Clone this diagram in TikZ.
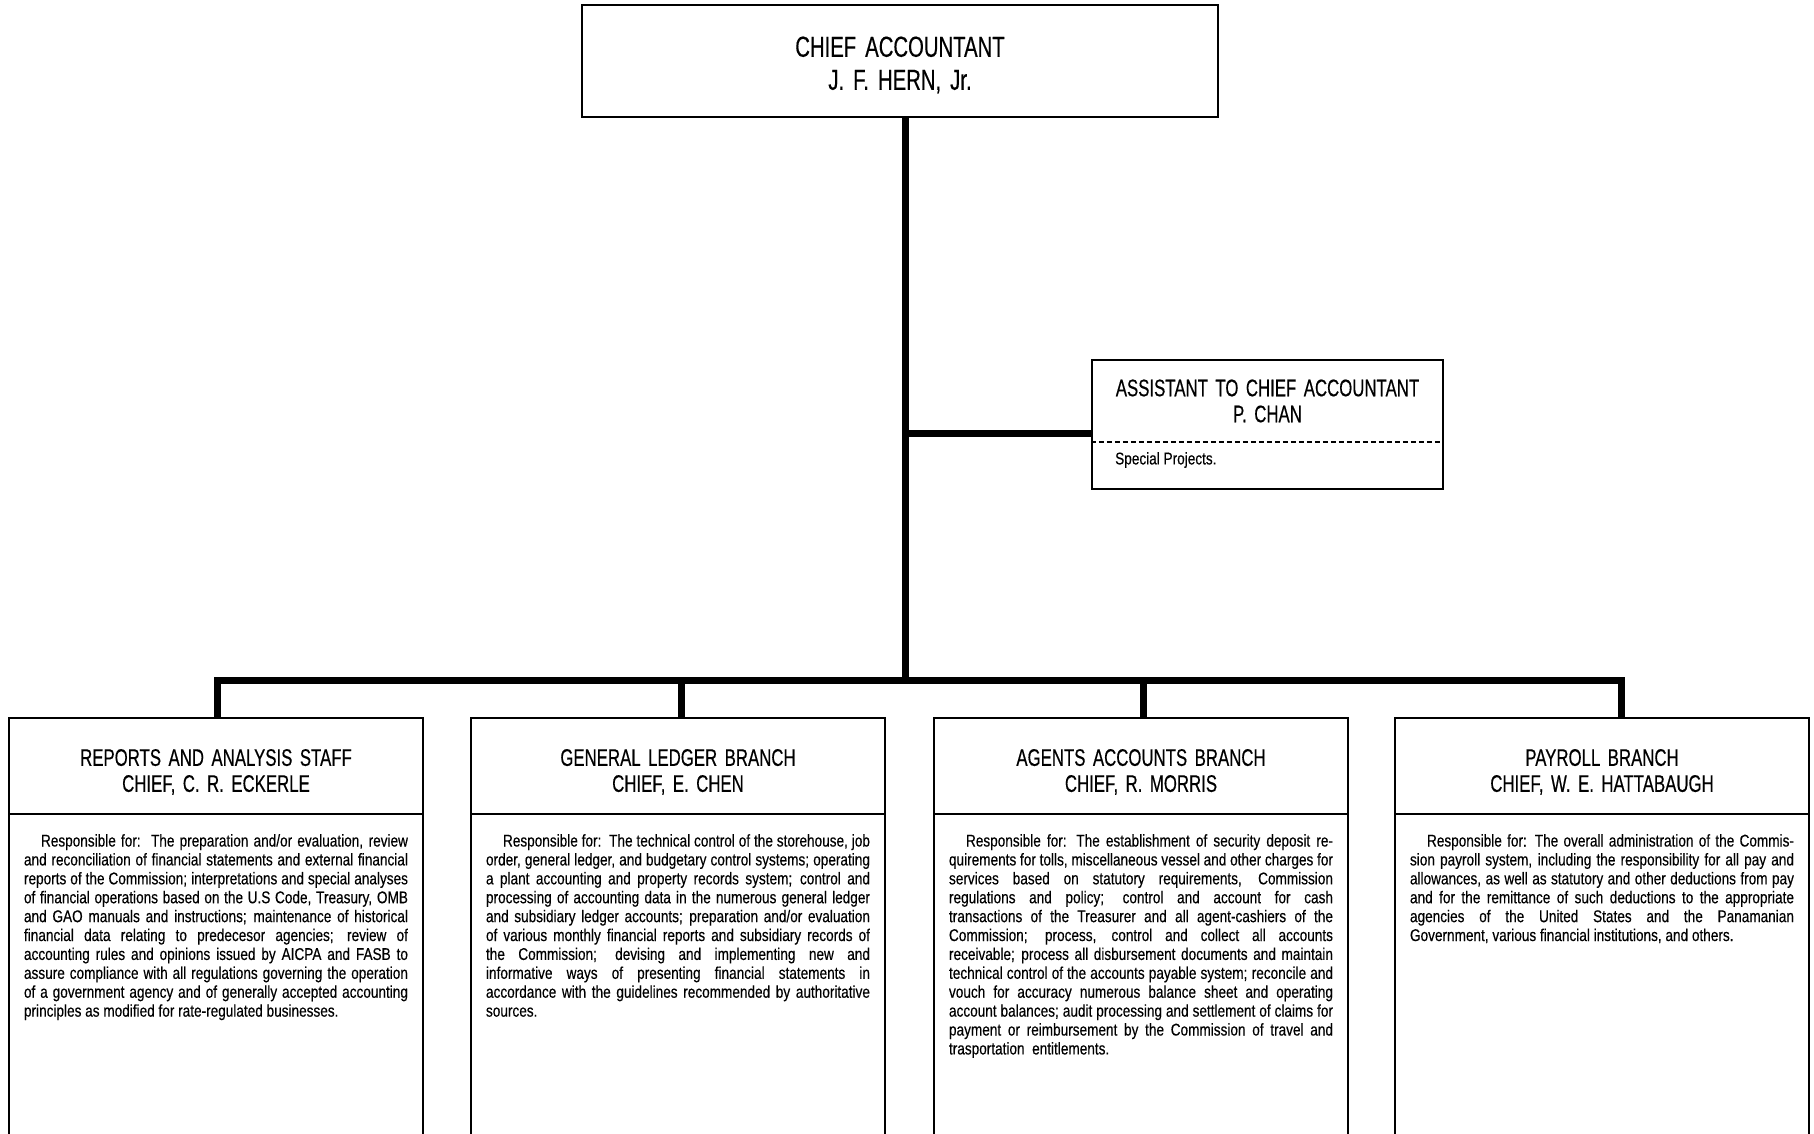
\documentclass[tikz,border=0pt]{standalone}
\usepackage{fontspec}
\setmainfont{Liberation Sans}[FakeStretch=0.80,FakeBold=0.35]
\newfontfamily\hdfont{Liberation Sans}[FakeStretch=0.70,WordSpace=1.6,FakeBold=0.4]
\newlength\bw
\setlength\bw{384pt}
\newcommand\jline[1]{\makebox[\bw][s]{#1}\par}
\newcommand\lline[1]{\makebox[\bw][l]{#1}\par}
\newcommand\ind{\hspace*{17pt}}
\tikzset{
  box/.style={draw, line width=2.2pt, inner sep=0pt, rectangle},
  conn/.style={line width=7pt},
  hd/.style={font=\hdfont\fontsize{24}{26}\selectfont, align=center, inner sep=0pt},
  body/.style={font=\fontsize{17}{18.9}\selectfont, inner sep=0pt, anchor=north},
}
\begin{document}
\begin{tikzpicture}[x=1pt,y=-1pt]
\useasboundingbox (0,0) rectangle (1814,1134);
\clip (0,0) rectangle (1814,1134);

% boxes
\node[box, minimum width=636pt, minimum height=112pt] (chief) at (900,61) {};
\node[hd, font=\hdfont\fontsize{29}{33}\selectfont] (chieft) at (900,65) {CHIEF ACCOUNTANT\\J. F. HERN, Jr.};

\node[box, minimum width=351pt, minimum height=129pt] (asst) at (1267.5,424.5) {};
\node[hd] (asstt) at (1267.5,401) {ASSISTANT TO CHIEF ACCOUNTANT\\P. CHAN};
\coordinate (dl) at (0,442);
\draw[line width=1.3pt, dash pattern=on 5pt off 3pt] (asst.west |- dl) -- (asst.east |- dl);
\node[font=\fontsize{17}{18.9}\selectfont, inner sep=0pt, anchor=west] (spec) at (1115,460) {Special Projects.};

\foreach \n/\cx in {1/216,2/678,3/1141,4/1602}{
  \node[box, minimum width=414pt, minimum height=96pt] (bh\n) at (\cx,766) {};
  \node[box, minimum width=414pt, minimum height=326pt] (bb\n) at (\cx,977) {};
}

\node[hd] (t1) at (216,772) {REPORTS AND ANALYSIS STAFF\\CHIEF, C. R. ECKERLE};
\node[hd] (t2) at (678,772) {GENERAL LEDGER BRANCH\\CHIEF, E. CHEN};
\node[hd] (t3) at (1141,772) {AGENTS ACCOUNTS BRANCH\\CHIEF, R. MORRIS};
\node[hd] (t4) at (1602,772) {PAYROLL BRANCH\\CHIEF, W. E. HATTABAUGH};

\node[body] (p1) at (216,834) {\parbox[t]{\bw}{\fontsize{17}{18.9}\selectfont
\jline{\ind Responsible for:\ \ The preparation and/or evaluation, review}
\jline{and reconciliation of financial statements and external financial}
\jline{reports of the Commission; interpretations and special analyses}
\jline{of financial operations based on the U.S Code, Treasury, OMB}
\jline{and GAO manuals and instructions; maintenance of historical}
\jline{financial data relating to predecesor agencies; review of}
\jline{accounting rules and opinions issued by AICPA and FASB to}
\jline{assure compliance with all regulations governing the operation}
\jline{of a government agency and of generally accepted accounting}
\lline{principles as modified for rate-regulated businesses.}}};

\node[body] (p2) at (678,834) {\parbox[t]{\bw}{\fontsize{17}{18.9}\selectfont
\jline{\ind Responsible for:\ \ The technical control of the storehouse, job}
\jline{order, general ledger, and budgetary control systems; operating}
\jline{a plant accounting and property records system; control and}
\jline{processing of accounting data in the numerous general ledger}
\jline{and subsidiary ledger accounts; preparation and/or evaluation}
\jline{of various monthly financial reports and subsidiary records of}
\jline{the Commission; devising and implementing new and}
\jline{informative ways of presenting financial statements in}
\jline{accordance with the guidelines recommended by authoritative}
\lline{sources.}}};

\node[body] (p3) at (1141,834) {\parbox[t]{\bw}{\fontsize{17}{18.9}\selectfont
\jline{\ind Responsible for: The establishment of security deposit re-}
\jline{quirements for tolls, miscellaneous vessel and other charges for}
\jline{services based on statutory requirements, Commission}
\jline{regulations and policy; control and account for cash}
\jline{transactions of the Treasurer and all agent-cashiers of the}
\jline{Commission; process, control and collect all accounts}
\jline{receivable; process all disbursement documents and maintain}
\jline{technical control of the accounts payable system; reconcile and}
\jline{vouch for accuracy numerous balance sheet and operating}
\jline{account balances; audit processing and settlement of claims for}
\jline{payment or reimbursement by the Commission of travel and}
\lline{trasportation\ \ entitlements.}}};

\node[body] (p4) at (1602,834) {\parbox[t]{\bw}{\fontsize{17}{18.9}\selectfont
\jline{\ind Responsible for: The overall administration of the Commis-}
\jline{sion payroll system, including the responsibility for all pay and}
\jline{allowances, as well as statutory and other deductions from pay}
\jline{and for the remittance of such deductions to the appropriate}
\jline{agencies of the United States and the Panamanian}
\lline{Government, various financial institutions, and others.}}};

% connectors
\coordinate (jn) at (905,680);
\coordinate (aj) at (905,433);
\coordinate (d1) at (217,680);
\coordinate (d2) at (681,680);
\coordinate (d3) at (1143,680);
\coordinate (d4) at (1621,680);
\draw[conn] (chief.south -| jn) -- (jn);
\draw[conn] (aj) -- (asst.west |- aj);
\draw[conn, line join=miter] (d1 |- bh1.north) -- (d1) -- (d4) -- (d4 |- bh4.north);
\draw[conn] (d2) -- (d2 |- bh2.north);
\draw[conn] (d3) -- (d3 |- bh3.north);
\end{tikzpicture}
\end{document}
